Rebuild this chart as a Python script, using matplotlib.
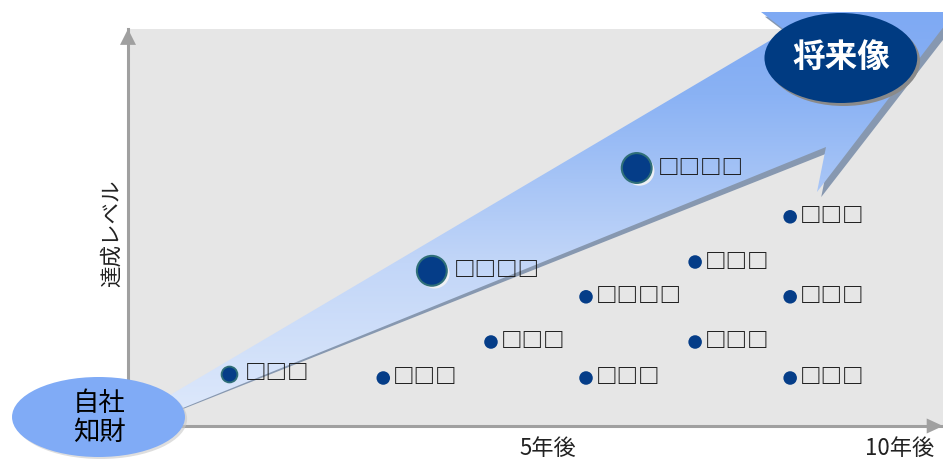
import numpy as np
import matplotlib
matplotlib.use('Agg')
import matplotlib.pyplot as plt
import matplotlib.patheffects as pe
from matplotlib.patches import Polygon, Ellipse
from matplotlib.colors import LinearSegmentedColormap

plt.rcParams['font.family'] = ['Noto Sans CJK JP', 'DejaVu Sans']

# x: 年, y: 達成レベル
tick_pos = [5, 10]
tick_labels = ['5年後', '10年後']
y_title = '達成レベル'

pt_x = [0.47, 3.35, 6.26, 2.66, 4.19, 5.54, 5.54, 7.09, 7.09, 8.44, 8.44, 8.44]
pt_y = [1.30, 3.88, 6.45, 1.20, 2.10, 3.23, 1.20, 4.10, 2.10, 5.23, 3.23, 1.20]
pt_label = ['□□□', '□□□□', '□□□□', '□□□', '□□□', '□□□□', '□□□',
            '□□□', '□□□', '□□□', '□□□', '□□□']
pt_kind = ['mid', 'big', 'big', 'small', 'small', 'small', 'small',
           'small', 'small', 'small', 'small', 'small']

start_label = '自社\n知財'
goal_label = '将来像'

# 大きな矢印の輪郭（データ座標）
arrow_x = [-1.761, 8.381, 8.026, 10.781, 8.821, 8.949]
arrow_y = [-0.675, 9.875, 10.35, 10.35, 5.85, 6.975]

kind_style = {
    'big':   dict(s=462, lw=1.5, off=15.5),
    'mid':   dict(s=130, lw=1.3, off=11.0),
    'small': dict(s=95,  lw=0.0, off=7.0),
}

fig = plt.figure(figsize=(9.43, 4.59), dpi=100)
ax = fig.add_axes([128 / 943, 33 / 459, 815 / 943, 397 / 459])
ax.set_facecolor('#e6e6e6')

# 矢印の影（先端ほど厚い）
ax_arr = np.array(arrow_x)
ay_arr = np.array(arrow_y)
t = (ax_arr - ax_arr.min()) / (ax_arr.max() - ax_arr.min())
shadow = Polygon(np.column_stack([ax_arr + t * 5 / 70.4, ay_arr - t * 6 / 40]),
                 closed=True, facecolor='#8798b0', edgecolor='none', zorder=1, clip_on=False)
ax.add_patch(shadow)

# 矢印本体（グラデーション）
body = Polygon(np.column_stack([arrow_x, arrow_y]), closed=True,
               facecolor='none', edgecolor='none', zorder=1.4, clip_on=False)
ax.add_patch(body)
cmap = LinearSegmentedColormap.from_list(
    'arr', [(0.0, '#e4edfc'), (0.43, '#c2d6f8'), (0.81, '#8ab2f4'), (1.0, '#7ea9f3')])
grad = np.linspace(-0.1, 10.35, 256)[:, None]
im = ax.imshow(grad, extent=[min(arrow_x), max(arrow_x), -0.7, 10.4], origin='lower',
               cmap=cmap, vmin=-0.1, vmax=10.35, aspect='auto', interpolation='bilinear',
               zorder=1.5, clip_path=body)
im.set_clip_box(fig.bbox)

# 点とラベル
for x, y, lab, kind in zip(pt_x, pt_y, pt_label, pt_kind):
    st = kind_style[kind]
    sc = ax.scatter([x], [y], s=st['s'], color='#053d88',
                    edgecolors='#2f6f78' if st['lw'] else 'none',
                    linewidths=st['lw'], zorder=3)
    if kind == 'big':
        sc.set_path_effects([pe.SimplePatchShadow(offset=(2, -2), shadow_rgbFace='#f4f4f4', alpha=0.9),
                             pe.Normal()])
    ax.annotate(lab, (x, y), xytext=(st['off'], 0), textcoords='offset points',
                ha='left', va='center', fontsize=15.5, fontweight='bold',
                color='#1a1a1a', zorder=3)

# 自社知財
e1s = Ellipse((-1.355, 0.175), 2.457, 2.0, facecolor='#c8c8c8', edgecolor='none',
              zorder=4.9, clip_on=False, alpha=0.6)
e1 = Ellipse((-1.385, 0.225), 2.457, 2.0, facecolor='#80abf6', edgecolor='none',
             zorder=5, clip_on=False)
ax.add_patch(e1s)
ax.add_patch(e1)
ax.text(-1.37, 0.2, start_label, ha='center', va='center', fontsize=19,
        linespacing=1.05, color='black', zorder=6)

# 将来像
e2s = Ellipse((9.2, 9.125), 2.17, 2.25, facecolor='#8a8a8a', edgecolor='none',
              zorder=4.9, clip_on=False)
e2 = Ellipse((9.16, 9.2), 2.17, 2.25, facecolor='#003b82', edgecolor='none',
             zorder=5, clip_on=False)
ax.add_patch(e2s)
ax.add_patch(e2)
ax.text(9.16, 9.225, goal_label, ha='center', va='center', fontsize=23.5,
        fontweight='bold', color='white', zorder=6, clip_on=False)

# 軸
ax.set_xlim(-0.966, 10.611)
ax.set_ylim(0, 9.925)
for side in ['top', 'right']:
    ax.spines[side].set_visible(False)
for side in ['left', 'bottom']:
    ax.spines[side].set_color('#a0a0a0')
    ax.spines[side].set_linewidth(2.2)
ax.add_patch(Polygon([[0, 1.0], [-0.0098, 0.96], [0.0098, 0.96]], closed=True,
                     transform=ax.transAxes, facecolor='#a0a0a0', edgecolor='none',
                     clip_on=False, zorder=4))
ax.add_patch(Polygon([[1.0, 0], [0.98, 0.019], [0.98, -0.019]], closed=True,
                     transform=ax.transAxes, facecolor='#a0a0a0', edgecolor='none',
                     clip_on=False, zorder=4))
ax.set_xticks(tick_pos, tick_labels, fontsize=16, color='#222222')
ax.tick_params(axis='x', length=0, pad=8)
ax.set_yticks([])
ax.text(-0.0196, 0.486, y_title, transform=ax.transAxes, rotation=90,
        ha='center', va='center', fontsize=15.5, color='#222222')

fig.savefig('out.png', dpi=100)
